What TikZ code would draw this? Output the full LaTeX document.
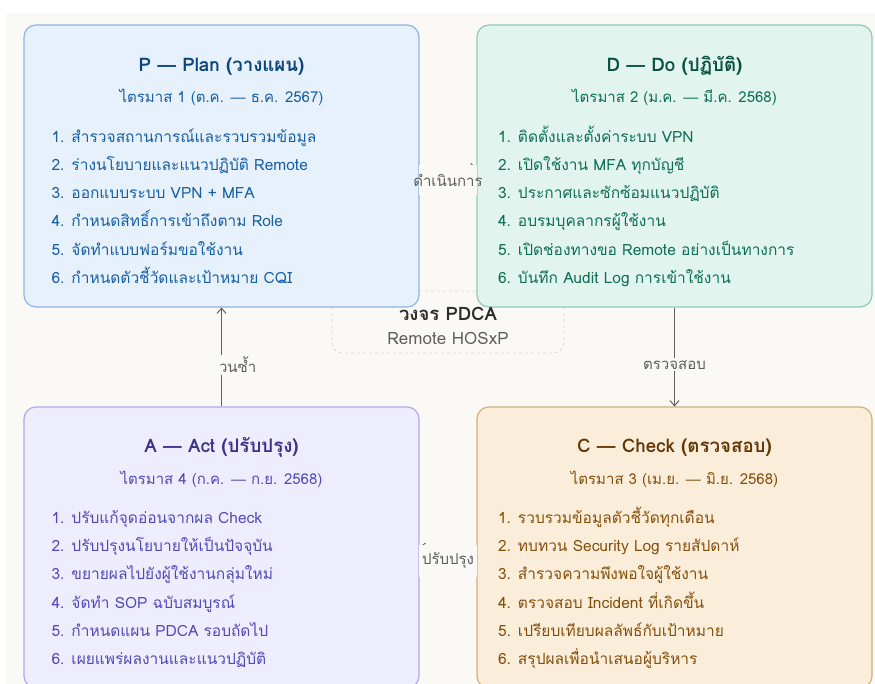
\documentclass[tikz,border=0pt]{standalone}
\usepackage{fontspec}
\setmainfont{Loma}[Script=Thai]
\newfontfamily\dashfont{Liberation Sans}
\usetikzlibrary{arrows.meta, positioning, calc}

\definecolor{bg}{HTML}{FAF9F5}
\definecolor{planfill}{HTML}{E6F1FB}
\definecolor{planline}{HTML}{8DB4E2}
\definecolor{plantitle}{HTML}{0C447C}
\definecolor{plantext}{HTML}{185FA5}
\definecolor{dofill}{HTML}{E1F5EE}
\definecolor{doline}{HTML}{8ECDB4}
\definecolor{dotitle}{HTML}{085041}
\definecolor{dotext}{HTML}{0F6E56}
\definecolor{checkfill}{HTML}{FAEEDA}
\definecolor{checkline}{HTML}{D6AE7C}
\definecolor{checktitle}{HTML}{633806}
\definecolor{checktext}{HTML}{854F0B}
\definecolor{actfill}{HTML}{EEEDFE}
\definecolor{actline}{HTML}{AFA9EC}
\definecolor{acttitle}{HTML}{3C3489}
\definecolor{acttext}{HTML}{534AB7}
\definecolor{arrowgray}{HTML}{5F5E5A}
\definecolor{cycletext}{HTML}{2C2C2A}

\newcommand{\emd}{{\dashfont —}}

\begin{document}
\begin{tikzpicture}[x=1pt, y=-1pt,
    phase/.style={draw, line width=1.2pt, rounded corners=12pt,
                  minimum width=395pt, inner sep=0pt},
    heading/.style={font=\fontsize{18.7}{22}\selectfont\bfseries, anchor=base},
    quarter/.style={font=\fontsize{15}{18}\selectfont, anchor=base},
    items/.style={font=\fontsize{15.5}{28.2}\selectfont, align=left,
                  anchor=base west, inner sep=0pt},
    flow/.style={-{Straight Barb[length=5pt, width=9pt]}, line width=1pt, draw=arrowgray},
    flowlabel/.style={font=\fontsize{15}{18}\selectfont, text=arrowgray, fill=bg}
  ]
  \useasboundingbox (0,0) rectangle (875,684);
  \fill[white] (0,0) rectangle (875,684);
  \fill[bg] (6,13) rectangle (875,684);

  % centre of the cycle
  \node[draw=black!15, dashed, line width=0.8pt, rounded corners=10pt, fill=bg,
        minimum width=232pt, minimum height=62pt] (cycle) at (448,322) {};

  % four phases
  \node[phase, fill=planfill, draw=planline, minimum height=282pt] (plan) at (221.5,166) {};
  \node[phase, fill=dofill, draw=doline, minimum height=282pt] (do) at (674.5,166) {};
  \node[phase, fill=actfill, draw=actline, minimum height=281pt] (act) at (221.5,547.5) {};
  \node[phase, fill=checkfill, draw=checkline, minimum height=281pt] (check) at (674.5,547.5) {};

  \node[anchor=base, font=\fontsize{18.5}{21}\selectfont\bfseries, text=cycletext]
    (cycletitle) at ([yshift=-30pt]cycle.north) {วงจร PDCA};
  \node[anchor=base, font=\fontsize{17}{20}\selectfont, text=arrowgray]
    (cyclesub) at ([yshift=-54pt]cycle.north) {Remote HOSxP};

  % Plan (base = last line of the list)
  \node[heading, text=plantitle] (plantitle) at ([yshift=-47pt]plan.north)
    {P \emd{} Plan (วางแผน)};
  \node[quarter, text=plantext] (planq) at ([yshift=-78pt]plan.north)
    {ไตรมาส 1 (ต.ค. \emd{} ธ.ค. 2567)};
  \node[items, text=plantext] (planlist) at ([xshift=28pt, yshift=-259pt]plan.north west)
    {1. สำรวจสถานการณ์และรวบรวมข้อมูล\\
     2. ร่างนโยบายและแนวปฏิบัติ Remote\\
     3. ออกแบบระบบ VPN + MFA\\
     4. กำหนดสิทธิ์การเข้าถึงตาม Role\\
     5. จัดทำแบบฟอร์มขอใช้งาน\\
     6. กำหนดตัวชี้วัดและเป้าหมาย CQI};

  % Do
  \node[heading, text=dotitle] (dotitle) at ([yshift=-47pt]do.north)
    {D \emd{} Do (ปฏิบัติ)};
  \node[quarter, text=dotext] (doq) at ([yshift=-78pt]do.north)
    {ไตรมาส 2 (ม.ค. \emd{} มี.ค. 2568)};
  \node[items, text=dotext] (dolist) at ([xshift=21.5pt, yshift=-259pt]do.north west)
    {1. ติดตั้งและตั้งค่าระบบ VPN\\
     2. เปิดใช้งาน MFA ทุกบัญชี\\
     3. ประกาศและซักซ้อมแนวปฏิบัติ\\
     4. อบรมบุคลากรผู้ใช้งาน\\
     5. เปิดช่องทางขอ Remote อย่างเป็นทางการ\\
     6. บันทึก Audit Log การเข้าใช้งาน};

  % Check
  \node[heading, text=checktitle] (checktitle) at ([yshift=-46pt]check.north)
    {C \emd{} Check (ตรวจสอบ)};
  \node[quarter, text=checktext] (checkq) at ([yshift=-78pt]check.north)
    {ไตรมาส 3 (เม.ย. \emd{} มิ.ย. 2568)};
  \node[items, text=checktext] (checklist) at ([xshift=21.5pt, yshift=-258pt]check.north west)
    {1. รวบรวมข้อมูลตัวชี้วัดทุกเดือน\\
     2. ทบทวน Security Log รายสัปดาห์\\
     3. สำรวจความพึงพอใจผู้ใช้งาน\\
     4. ตรวจสอบ Incident ที่เกิดขึ้น\\
     5. เปรียบเทียบผลลัพธ์กับเป้าหมาย\\
     6. สรุปผลเพื่อนำเสนอผู้บริหาร};

  % Act
  \node[heading, text=acttitle] (acttitle) at ([yshift=-46pt]act.north)
    {A \emd{} Act (ปรับปรุง)};
  \node[quarter, text=acttext] (actq) at ([yshift=-78pt]act.north)
    {ไตรมาส 4 (ก.ค. \emd{} ก.ย. 2568)};
  \node[items, text=acttext] (actlist) at ([xshift=28pt, yshift=-258pt]act.north west)
    {1. ปรับแก้จุดอ่อนจากผล Check\\
     2. ปรับปรุงนโยบายให้เป็นปัจจุบัน\\
     3. ขยายผลไปยังผู้ใช้งานกลุ่มใหม่\\
     4. จัดทำ SOP ฉบับสมบูรณ์\\
     5. กำหนดแผน PDCA รอบถัดไป\\
     6. เผยแพร่ผลงานและแนวปฏิบัติ};

  % cycle arrows
  \draw[flow] ([yshift=-2pt]plan.east) -- ([yshift=-2pt]do.west)
    node[flowlabel, midway, yshift=-12pt, inner xsep=-6pt, minimum height=30pt] {ดำเนินการ};
  \draw[flow] (check.west) -- (act.east)
    node[flowlabel, midway, yshift=-13pt, inner xsep=3pt, minimum height=32pt] {ปรับปรุง};
  \draw[flow] (do) -- (check)
    node[flowlabel, pos=0.58, inner sep=2pt] {ตรวจสอบ};
  \draw[flow] (act) -- (plan)
    node[flowlabel, pos=0.42, anchor=west, xshift=-5pt, inner sep=2pt] {วนซ้ำ};
\end{tikzpicture}
\end{document}
